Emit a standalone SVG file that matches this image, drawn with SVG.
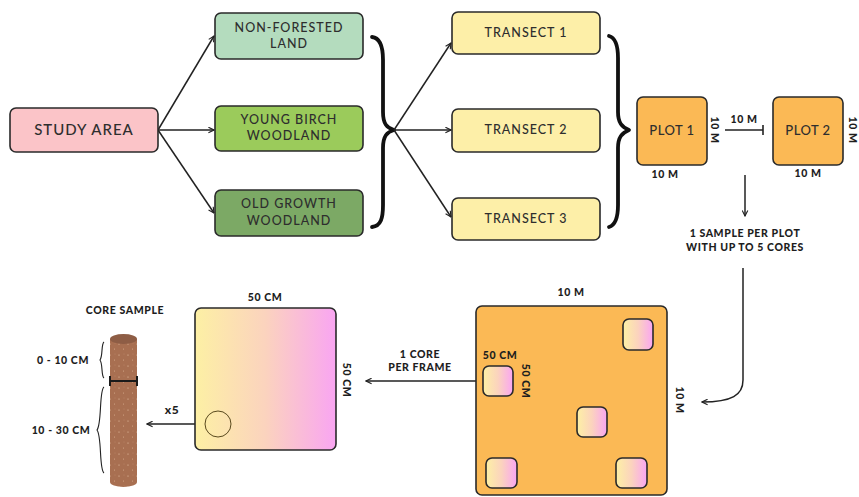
<svg xmlns="http://www.w3.org/2000/svg" width="859" height="497" viewBox="0 0 859 497">
  <defs>
    <linearGradient id="frameGrad" x1="0" y1="0" x2="1" y2="0">
      <stop offset="0" stop-color="#fdf0a4"/>
      <stop offset="0.5" stop-color="#fbd3be"/>
      <stop offset="1" stop-color="#f9a5f2"/>
    </linearGradient>
    <pattern id="soil" width="9" height="11" patternUnits="userSpaceOnUse">
      <rect width="9" height="11" fill="#a86f51"/>
      <circle cx="2" cy="3" r="0.6" fill="#e9c6a8"/>
      <circle cx="6.5" cy="8" r="0.5" fill="#dcb394"/>
      <circle cx="7" cy="2" r="0.4" fill="#c99577"/>
    </pattern>
    <marker id="arrow" viewBox="0 0 10 10" refX="9" refY="5" markerWidth="7" markerHeight="7" orient="auto" markerUnits="userSpaceOnUse">
      <path d="M1,1 L9,5 L1,9" fill="none" stroke="#222" stroke-width="1.6"/>
    </marker>
    <marker id="bar" viewBox="0 0 4 10" refX="2" refY="5" markerWidth="4" markerHeight="10" orient="auto" markerUnits="userSpaceOnUse">
      <path d="M2,0 L2,10" stroke="#222" stroke-width="1.6"/>
    </marker>
    <style>
      .box { stroke: #2a2a2a; stroke-width: 1.6; }
      .lbl { font-family: Lato, "Open Sans", "Liberation Sans", sans-serif; font-size: 12.5px; fill: #2e2e2e; letter-spacing: 1px; text-anchor: middle; font-weight: 500; }
      .big { font-size: 15px; }
      .dim { font-family: Lato, "Open Sans", "Liberation Sans", sans-serif; font-size: 10.5px; font-weight: 900; fill: #1e1e1e; letter-spacing: 0.6px; text-anchor: middle; }
      .con { fill: none; stroke: #222; stroke-width: 1.5; }
      .brace { fill: none; stroke: #111; stroke-width: 3.8; stroke-linecap: round; stroke-linejoin: round; }
      .thin { fill: none; stroke: #222; stroke-width: 1.1; }
    </style>
  </defs>

  <rect width="859" height="497" fill="#ffffff"/>

  <!-- connectors -->
  <g id="connectors">
    <path class="con" d="M158,130 L214,36" marker-end="url(#arrow)"/>
    <path class="con" d="M158,130 L214,130" marker-end="url(#arrow)"/>
    <path class="con" d="M158,130 L214,213" marker-end="url(#arrow)"/>
    <path class="brace" d="M372,37 C381,38 383,48 383,60 L383,112 C383,124 387,128 394,130 C387,132 383,136 383,148 L383,205 C383,218 381,226 372,227"/>
    <path class="con" d="M394,130 L451,43" marker-end="url(#arrow)"/>
    <path class="con" d="M394,130 L451,130" marker-end="url(#arrow)"/>
    <path class="con" d="M394,130 L451,217" marker-end="url(#arrow)"/>
    <path class="brace" d="M609,36 C616,38 618,46 618,58 L618,112 C618,123 622,127 629,130 C622,133 618,137 618,148 L618,205 C618,217 616,225 609,227"/>
    <path class="con" d="M725,130 L763,130" marker-end="url(#bar)"/>
    <path class="con" d="M745,175 L745,216" marker-end="url(#arrow)"/>
    <path class="con" d="M743,268 L743,380 C743,395 732,402 702,402" marker-end="url(#arrow)"/>
    <path class="con" d="M483,381 L366,381" marker-end="url(#arrow)"/>
    <path class="con" d="M205,424 L147,424" marker-end="url(#arrow)"/>
  </g>

  <g id="study-area">
    <rect class="box" x="10" y="108" width="148" height="44" rx="6" fill="#fbc4c8"/>
    <text class="lbl big" x="84" y="135">STUDY AREA</text>
  </g>

  <g id="non-forested">
    <rect class="box" x="215" y="13" width="148" height="46" rx="6" fill="#b4dcbe"/>
    <text class="lbl" x="289" y="32">NON-FORESTED</text>
    <text class="lbl" x="289" y="48">LAND</text>
  </g>
  <g id="young-birch">
    <rect class="box" x="215" y="106" width="148" height="45" rx="6" fill="#9bcb5b"/>
    <text class="lbl" x="289" y="124">YOUNG BIRCH</text>
    <text class="lbl" x="289" y="140">WOODLAND</text>
  </g>
  <g id="old-growth">
    <rect class="box" x="215" y="190" width="148" height="46" rx="6" fill="#7ca965"/>
    <text class="lbl" x="289" y="208">OLD GROWTH</text>
    <text class="lbl" x="289" y="225">WOODLAND</text>
  </g>

  <g id="transect-1">
    <rect class="box" x="452" y="12" width="148" height="42" rx="6" fill="#fdefa8"/>
    <text class="lbl" x="526" y="37">TRANSECT 1</text>
  </g>
  <g id="transect-2">
    <rect class="box" x="452" y="109" width="148" height="43" rx="6" fill="#fdefa8"/>
    <text class="lbl" x="526" y="134">TRANSECT 2</text>
  </g>
  <g id="transect-3">
    <rect class="box" x="452" y="198" width="148" height="42" rx="6" fill="#fdefa8"/>
    <text class="lbl" x="526" y="223">TRANSECT 3</text>
  </g>

  <g id="plot-1">
    <rect class="box" x="637" y="97" width="70" height="68" rx="6" fill="#fbb955"/>
    <text class="lbl" x="672" y="135" style="letter-spacing:0.5px; font-size:13px">PLOT 1</text>
    <text class="dim" x="665" y="178">10 M</text>
    <text class="dim" transform="translate(711,130) rotate(90)">10 M</text>
    <text class="dim" x="744" y="123">10 M</text>
  </g>
  <g id="plot-2">
    <rect class="box" x="773" y="97" width="70" height="68" rx="6" fill="#fbb955"/>
    <text class="lbl" x="808" y="135" style="letter-spacing:0.5px; font-size:13px">PLOT 2</text>
    <text class="dim" x="808" y="177">10 M</text>
    <text class="dim" transform="translate(849,130) rotate(90)">10 M</text>
  </g>

  <g id="sample-note">
    <text class="dim" x="745" y="237">1 SAMPLE PER PLOT</text>
    <text class="dim" x="745" y="251">WITH UP TO 5 CORES</text>
  </g>

  <g id="plot-layout">
    <rect class="box" x="476" y="306" width="191" height="189" rx="6" fill="#fbb955" stroke-width="2"/>
    <text class="dim" x="571" y="296">10 M</text>
    <text class="dim" transform="translate(676,400) rotate(90)">10 M</text>
    <rect class="box" x="623" y="319" width="30" height="31" rx="6" fill="url(#frameGrad)"/>
    <rect class="box" x="483" y="366" width="30" height="30" rx="6" fill="url(#frameGrad)"/>
    <rect class="box" x="577" y="407" width="30" height="30" rx="6" fill="url(#frameGrad)"/>
    <rect class="box" x="486" y="458" width="31" height="30" rx="6" fill="url(#frameGrad)"/>
    <rect class="box" x="616" y="458" width="31" height="30" rx="6" fill="url(#frameGrad)"/>
    <text class="dim" x="500" y="359">50 CM</text>
    <text class="dim" transform="translate(522,381) rotate(90)">50 CM</text>
  </g>

  <g id="frame-note">
    <text class="dim" x="420" y="358">1 CORE</text>
    <text class="dim" x="420" y="371">PER FRAME</text>
  </g>

  <g id="frame">
    <rect class="box" x="195" y="308" width="141" height="142" rx="6" fill="url(#frameGrad)" stroke-width="2"/>
    <circle cx="218" cy="424" r="13" fill="none" stroke="#5a4a1e" stroke-width="1"/>
    <text class="dim" x="265" y="301">50 CM</text>
    <text class="dim" transform="translate(343,380) rotate(90)">50 CM</text>
    <text class="dim" x="172" y="414" style="font-size:12px">x5</text>
  </g>

  <g id="core-sample">
    <text class="dim" x="125" y="314">CORE SAMPLE</text>
    <path d="M110,339 L110,482 A13.5,5 0 0 0 137,482 L137,339 Z" fill="url(#soil)"/>
    <ellipse cx="123.5" cy="339" rx="13.5" ry="5" fill="#8e5d45"/>
    <path d="M110,381 L137,381 M110,376 L110,386 M137,376 L137,386" stroke="#1a1a1a" stroke-width="2" fill="none"/>
    <path class="thin" d="M104,342 C101,344 103,356 100,360 C103,364 101,376 104,378"/>
    <path class="thin" d="M104,387 C99,390 102,424 97,430 C102,436 99,470 104,473" stroke-width="1.4"/>
    <text class="dim" x="63" y="364">0 - 10 CM</text>
    <text class="dim" x="61" y="434">10 - 30 CM</text>
  </g>
</svg>
